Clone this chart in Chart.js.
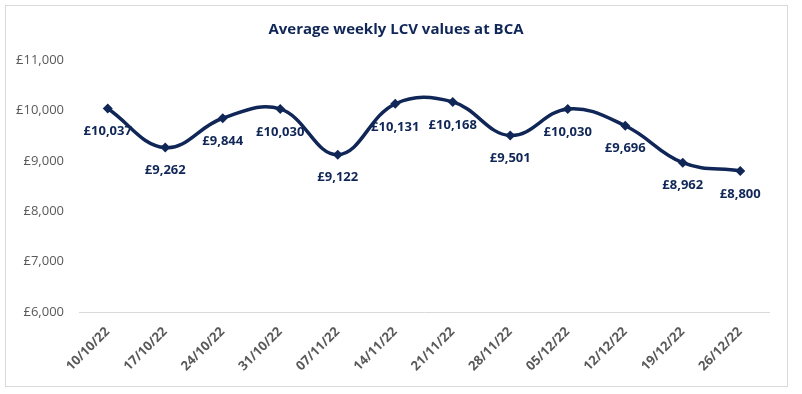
<!DOCTYPE html>
<html>
<head>
<meta charset="utf-8">
<script src="https://cdn.jsdelivr.net/npm/chart.js@4.4.0/dist/chart.umd.min.js"></script>
<style>
  html, body { margin: 0; padding: 0; background: #fff; }
  #wrap { width: 802px; height: 394px; }
</style>
</head>
<body>
<div id="wrap"><canvas id="chart" width="802" height="394"></canvas></div>
<script>
// data
const weeks = ["10/10/22", "17/10/22", "24/10/22", "31/10/22", "07/11/22", "14/11/22",
  "21/11/22", "28/11/22", "05/12/22", "12/12/22", "19/12/22", "26/12/22"];
const lcvValues = [10037, 9262, 9844, 10030, 9122, 10131, 10168, 9501, 10030, 9696, 8962, 8800];
const chartTitle = "Average weekly LCV values at BCA";

const navy = "#0F2657";
const fontFam = "'Open Sans', 'Liberation Sans', sans-serif";

function pounds(v) {
  return "£" + v.toLocaleString("en-GB");
}

// border round the whole chart + title
const frame = {
  id: "frame",
  beforeDraw(chart) {
    const ctx = chart.ctx;
    ctx.save();
    ctx.fillStyle = "#fff";
    ctx.fillRect(0, 0, chart.width, chart.height);
    ctx.strokeStyle = "#D9D9D9";
    ctx.lineWidth = 1;
    ctx.strokeRect(5.5, 5.5, 782, 381);
    ctx.fillStyle = navy;
    ctx.font = "bold 15px " + fontFam;
    ctx.textAlign = "center";
    ctx.textBaseline = "middle";
    ctx.fillText(chartTitle, 396, 30);
    ctx.restore();
  }
};

// value labels under each point
const valueLabels = {
  id: "valueLabels",
  afterDatasetsDraw(chart) {
    const ctx = chart.ctx;
    const meta = chart.getDatasetMeta(0);
    ctx.save();
    ctx.fillStyle = navy;
    ctx.font = "bold 13px " + fontFam;
    ctx.textAlign = "center";
    ctx.textBaseline = "middle";
    meta.data.forEach((pt, i) => {
      ctx.fillText(pounds(lcvValues[i]), pt.x, pt.y + 23);
    });
    ctx.restore();
  }
};

new Chart(document.getElementById("chart").getContext("2d"), {
  type: "line",
  data: {
    labels: weeks,
    datasets: [{
      data: lcvValues,
      borderColor: navy,
      backgroundColor: navy,
      borderWidth: 3.5,
      tension: 0.4,
      pointStyle: "rectRot",
      pointRadius: 5,
      pointBorderWidth: 0,
      pointHoverRadius: 5,
    }],
  },
  options: {
    responsive: false,
    animation: false,
    layout: {
      padding: { left: 5, right: 33, top: 60, bottom: 0 },
    },
    plugins: {
      legend: { display: false },
      title: { display: false },
      tooltip: { enabled: false },
    },
    scales: {
      y: {
        min: 6000,
        max: 11000,
        afterFit: (scale) => { scale.width = 74; },
        grid: { display: false, drawTicks: false },
        border: { display: false },
        ticks: {
          stepSize: 1000,
          padding: 15,
          color: "#595959",
          font: { family: fontFam, size: 13 },
          callback: (v) => pounds(v),
        },
      },
      x: {
        offset: true,
        afterFit: (scale) => { scale.height = 82; },
        grid: { display: false },
        border: { display: true, color: "#D9D9D9", width: 1 },
        ticks: {
          minRotation: 45,
          maxRotation: 45,
          padding: 4,
          color: "#595959",
          font: { family: fontFam, size: 13, weight: "bold" },
        },
      },
    },
  },
  plugins: [frame, valueLabels],
});
</script>
</body>
</html>
